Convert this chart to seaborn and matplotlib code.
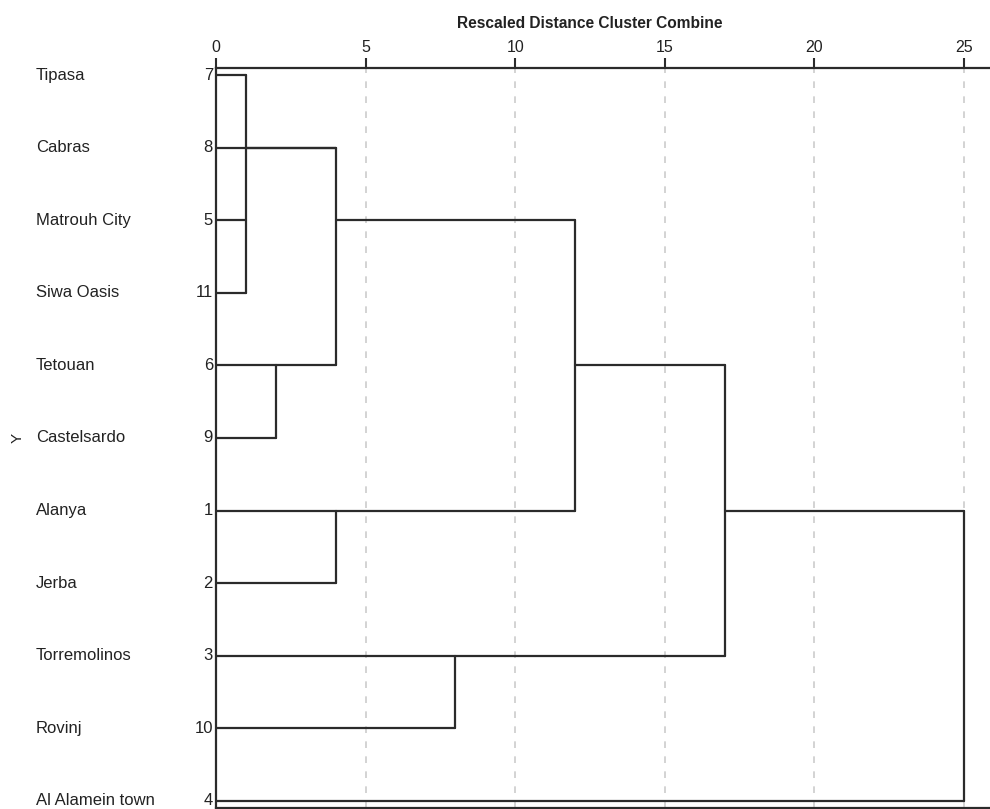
import numpy as np
import pandas as pd
import matplotlib
matplotlib.use("Agg")
import matplotlib.pyplot as plt
import matplotlib.transforms as mtransforms
import seaborn as sns

# Cases in dendrogram order (top to bottom)
names = ["Tipasa", "Cabras", "Matrouh City", "Siwa Oasis", "Tetouan", "Castelsardo",
         "Alanya", "Jerba", "Torremolinos", "Rovinj", "Al Alamein town"]
case_ids = [7, 8, 5, 11, 6, 9, 1, 2, 3, 10, 4]
# rescaled distance at which each case first joins a cluster
leaf_join = [1, 4, 1, 1, 2, 2, 4, 4, 8, 8, 25]

# merges: rescaled distance, first row, last row spanned, row the joined line leaves from, parent merge
merge_dist = [1, 2, 4, 4, 8, 12, 17, 25]
merge_first = [0, 4, 1, 6, 8, 2, 4, 6]
merge_last = [3, 5, 4, 7, 9, 6, 8, 10]
merge_out = [1, 4, 2, 6, 8, 4, 6, None]
merge_parent = [2, 2, 5, 5, 6, 6, 7, None]

sns.set_theme(style="white")
plt.rcParams["font.family"] = ["Liberation Sans", "DejaVu Sans"]

# build segments table
rows = []
seg = 0
for i, d in enumerate(leaf_join):
    rows += [(seg, 0, i), (seg, d, i)]
    seg += 1
for k, d in enumerate(merge_dist):
    rows += [(seg, d, merge_first[k]), (seg, d, merge_last[k])]
    seg += 1
    if merge_parent[k] is not None:
        pd_ = merge_dist[merge_parent[k]]
        rows += [(seg, d, merge_out[k]), (seg, pd_, merge_out[k])]
        seg += 1
segs = pd.DataFrame(rows, columns=["seg", "dist", "row"])

fig = plt.figure(figsize=(9.9, 8.09), dpi=100)
ax = fig.add_axes([216 / 990, 1 / 809, (990 - 216) / 990 + 0.01, (808 - 68) / 809])

sns.lineplot(data=segs, x="dist", y="row", units="seg", estimator=None, sort=False,
             color="#2b2b2b", linewidth=1.6, ax=ax, legend=False)

ax.set_xlim(0, 25 + 27 / 29.88 + 0.3)
ax.set_ylim(10.1, -0.1)
ax.set_xticks([0, 5, 10, 15, 20, 25])
ax.xaxis.tick_top()
ax.tick_params(axis="x", direction="out", length=7, width=1.5, color="#2b2b2b",
               labelsize=11.5, pad=2, top=True, bottom=False, labelcolor="#222222")
ax.set_yticks([])
ax.set_xlabel("")
ax.set_ylabel("")
for x in [5, 10, 15, 20, 25]:
    ax.axvline(x, color="#cccccc", linestyle=(0, (4, 5)), linewidth=1.2, zorder=0)
for s in ["top", "left", "bottom"]:
    ax.spines[s].set_color("#2b2b2b")
    ax.spines[s].set_linewidth(1.6)
ax.spines["right"].set_visible(False)

trans = mtransforms.blended_transform_factory(fig.transFigure, ax.transData)
for i, (n, c) in enumerate(zip(names, case_ids)):
    ax.text(36 / 990, i, n, transform=trans, ha="left", va="center", fontsize=12,
            color="#222222")
    ax.text(213 / 990, i, str(c), transform=trans, ha="right", va="center",
            fontsize=12, color="#222222")
ax.text(18 / 990, 5, "Y", transform=trans, ha="center", va="center", rotation=90,
        fontsize=11, color="#222222")

ax.text(12.5, -0.72, "Rescaled Distance Cluster Combine", ha="center", va="center",
        fontsize=11.2, fontweight="bold", color="#222222", clip_on=False)

fig.savefig("out.png", dpi=100)
